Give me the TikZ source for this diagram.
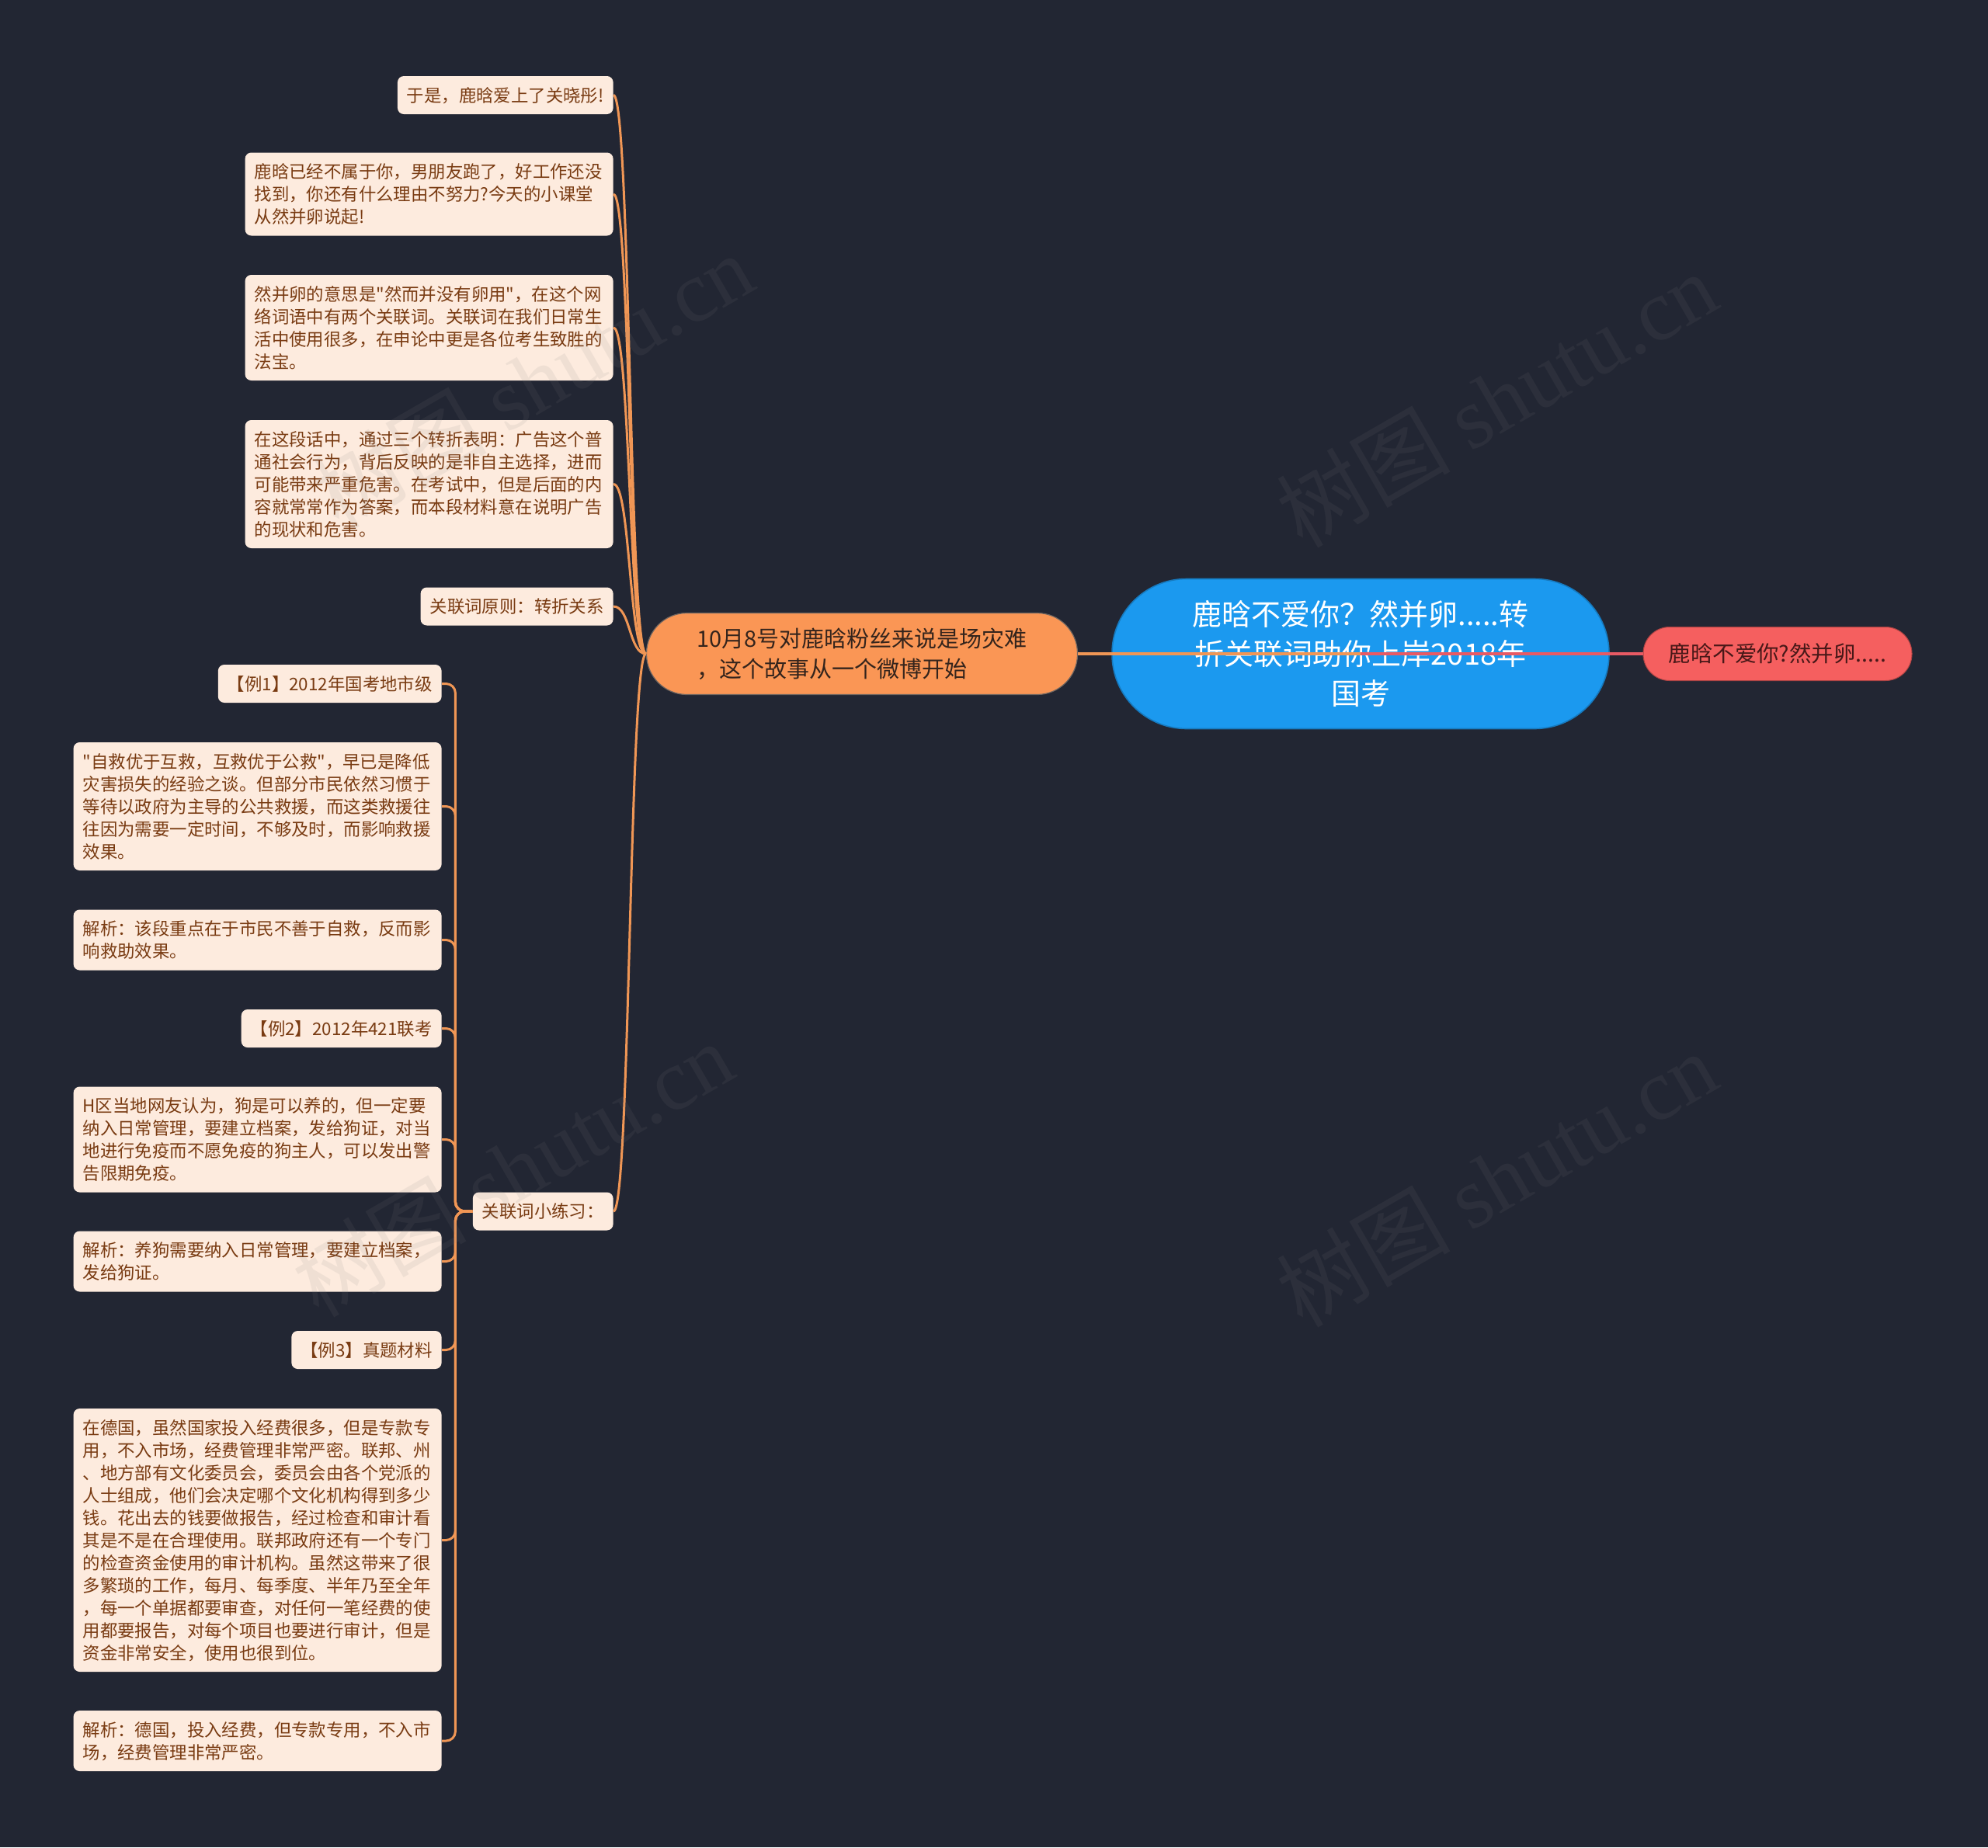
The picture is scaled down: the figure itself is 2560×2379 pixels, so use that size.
\documentclass[tikz,border=0pt]{standalone}
\usepackage{fontspec}
\setmainfont{Noto Sans CJK SC}[Ligatures=TeXOff]
\newfontfamily\wmserif{Liberation Serif}
\usepackage{tikz}
\definecolor{NightBg}{RGB}{34,38,51}
\definecolor{RootBlue}{RGB}{27,153,239}
\definecolor{TopicOrange}{RGB}{250,150,85}
\definecolor{TailRed}{RGB}{245,95,95}
\definecolor{LeafPeach}{RGB}{253,235,222}
\definecolor{LeafBrown}{RGB}{121,59,18}
\definecolor{LinkOrange}{RGB}{240,150,85}
\definecolor{LinkRed}{RGB}{232,90,100}
\definecolor{InkDark}{RGB}{52,36,28}
\definecolor{TailInk}{RGB}{72,24,24}
\newcommand{\leafstrut}{\rule[-3pt]{0pt}{14.5pt}}
\tikzset{
  leaf/.style={rectangle, fill=LeafPeach, rounded corners=4pt, inner xsep=6pt, inner ysep=5pt,
    align=left, text=LeafBrown, font=\fontsize{11.2}{14.5}\selectfont, anchor=east,
    execute at begin node=\leafstrut, execute at end node=\leafstrut},
  wideleaf/.style={leaf, text width=225pt},
  link/.style={draw=LinkOrange, line width=1.5pt},
  watermark/.style={rotate=30, text=gray, opacity=0.11, font=\fontsize{56}{60}\selectfont}
}

\begin{document}
\begin{tikzpicture}[x=0.5pt, y=-0.5pt,
    rootbox/.style={rectangle, fill=RootBlue, draw=RootBlue!80!black, line width=0.8pt, rounded corners=48pt,
      minimum width=320pt, minimum height=96.5pt, align=center, text=white, font=\fontsize{19}{25.5}\selectfont},
    topicbox/.style={rectangle, fill=TopicOrange, draw=InkDark!70, line width=0.6pt, rounded corners=26pt,
      minimum width=277.5pt, minimum height=52.5pt, align=left, text=InkDark, font=\fontsize{14.5}{19.5}\selectfont},
    tailbox/.style={rectangle, fill=TailRed, draw=TailRed!70!black, line width=0.5pt, rounded corners=17pt,
      minimum width=173pt, minimum height=34.5pt, text=TailInk, font=\fontsize{14.2}{16}\selectfont}]
  \fill[NightBg] (0,0) rectangle (2560,2379);
  \useasboundingbox (0,0) rectangle (2560,2379);

  % main line
  \node[rootbox] (root) at (1752,842) {鹿晗不爱你？然并卵.....转\\折关联词助你上岸2018年\\国考};
  \node[topicbox] (topic) at (1110,842) {10月8号对鹿晗粉丝来说是场灾难\\，这个故事从一个微博开始};
  \node[tailbox] (tail) at (2289,842) {鹿晗不爱你?然并卵.....};

  % children of the topic
  \node[leaf] (luhan) at (790,122.5) {于是，鹿晗爱上了关晓彤!};
  \node[wideleaf] (reason) at (790,250) {鹿晗已经不属于你，男朋友跑了，好工作还没\\找到，你还有什么理由不努力?今天的小课堂\\从然并卵说起!};
  \node[wideleaf] (meaning) at (790,422) {然并卵的意思是"然而并没有卵用"，在这个网\\络词语中有两个关联词。关联词在我们日常生\\活中使用很多，在申论中更是各位考生致胜的\\法宝。};
  \node[wideleaf] (passage) at (790,623.5) {在这段话中，通过三个转折表明：广告这个普\\通社会行为，背后反映的是非自主选择，进而\\可能带来严重危害。在考试中，但是后面的内\\容就常常作为答案，而本段材料意在说明广告\\的现状和危害。};
  \node[leaf] (rule) at (790,781) {关联词原则：转折关系};
  \node[leaf] (practice) at (790,1560) {关联词小练习：};

  % practice examples
  \node[leaf] (ex1) at (569,880.5) {【例1】2012年国考地市级};
  \node[wideleaf] (ex1text) at (569,1038.5) {"自救优于互救，互救优于公救"，早已是降低\\灾害损失的经验之谈。但部分市民依然习惯于\\等待以政府为主导的公共救援，而这类救援往\\往因为需要一定时间，不够及时，而影响救援\\效果。};
  \node[wideleaf] (ex1note) at (569,1210.5) {解析：该段重点在于市民不善于自救，反而影\\响救助效果。};
  \node[leaf] (ex2) at (569,1324.5) {【例2】2012年421联考};
  \node[wideleaf] (ex2text) at (569,1467.5) {H区当地网友认为，狗是可以养的，但一定要\\纳入日常管理，要建立档案，发给狗证，对当\\地进行免疫而不愿免疫的狗主人，可以发出警\\告限期免疫。};
  \node[wideleaf] (ex2note) at (569,1624.5) {解析：养狗需要纳入日常管理，要建立档案，\\发给狗证。};
  \node[leaf] (ex3) at (569,1738.5) {【例3】真题材料};
  \node[wideleaf] (ex3text) at (569,1983.5) {在德国，虽然国家投入经费很多，但是专款专\\用，不入市场，经费管理非常严密。联邦、州\\、地方部有文化委员会，委员会由各个党派的\\人士组成，他们会决定哪个文化机构得到多少\\钱。花出去的钱要做报告，经过检查和审计看\\其是不是在合理使用。联邦政府还有一个专门\\的检查资金使用的审计机构。虽然这带来了很\\多繁琐的工作，每月、每季度、半年乃至全年\\，每一个单据都要审查，对任何一笔经费的使\\用都要报告，对每个项目也要进行审计，但是\\资金非常安全，使用也很到位。};
  \node[wideleaf] (ex3note) at (569,2242) {解析：德国，投入经费，但专款专用，不入市\\场，经费管理非常严密。};

  % connectors
  \foreach \leafname in {luhan,reason,meaning,passage,rule,practice}
    \draw[link] (topic.west) .. controls +(-22,0) and +(22,0) .. (\leafname.east);
  \foreach \exname in {ex1,ex1text,ex1note,ex2,ex2text,ex2note,ex3,ex3text,ex3note}
    \draw[link, rounded corners=6pt] (practice.west) -- ++(-22,0) |- (\exname.east);
  \draw[LinkOrange, line width=2pt] (topic.east) -- (root.center);
  \draw[LinkRed, line width=2pt] (root.center) -- (tail.west);

  % watermarks
  \node[watermark] (wm1) at (686,490) {树图 {\wmserif shutu.cn}};
  \node[watermark] (wm2) at (1927,514) {树图 {\wmserif shutu.cn}};
  \node[watermark] (wm3) at (660,1505) {树图 {\wmserif shutu.cn}};
  \node[watermark] (wm4) at (1927,1518) {树图 {\wmserif shutu.cn}};
\end{tikzpicture}
\end{document}
